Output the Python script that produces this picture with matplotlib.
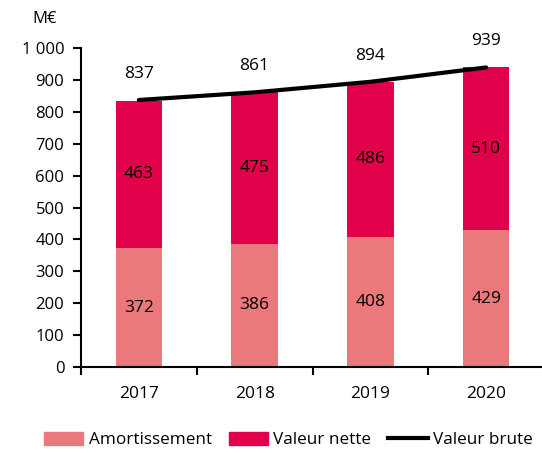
import matplotlib.pyplot as plt
from matplotlib.patches import Patch
from matplotlib.lines import Line2D
from matplotlib.ticker import FuncFormatter

plt.rcParams['font.family'] = ['Open Sans', 'DejaVu Sans']

# données (M€)
annees = ['2017', '2018', '2019', '2020']
amortissement = [372, 386, 408, 429]
valeur_nette = [463, 475, 486, 510]
valeur_brute = [837, 861, 894, 939]

c_amort = '#EB797B'
c_nette = '#E1004A'

fig = plt.figure(figsize=(5.42, 4.53), dpi=100)
ax = fig.add_axes([81 / 542, 86 / 453, 463 / 542, 319 / 453])

x = list(range(len(annees)))
ax.bar(x, amortissement, width=0.4, color=c_amort, zorder=2)
ax.bar(x, valeur_nette, width=0.4, bottom=amortissement, color=c_nette, zorder=2)
ax.plot(x, valeur_brute, color='black', linewidth=3, solid_capstyle='round', zorder=3)

fs = 12.5
for i in x:
    ax.text(i, amortissement[i] / 2, str(amortissement[i]), ha='center', va='center', fontsize=fs, zorder=4)
    ax.text(i, amortissement[i] + valeur_nette[i] / 2, str(valeur_nette[i]), ha='center', va='center', fontsize=fs, zorder=4)
    ax.text(i, valeur_brute[i] + 82, str(valeur_brute[i]), ha='center', va='center', fontsize=fs, zorder=4)

ax.set_xlim(-0.5, 3.5)
ax.set_ylim(0, 1000)
ax.set_yticks(range(0, 1001, 100))
ax.yaxis.set_major_formatter(FuncFormatter(lambda v, p: f'{int(v):,}'.replace(',', ' ')))
ax.set_xticks(x)
ax.set_xticklabels(annees)
ax.set_xticks([-0.5, 0.5, 1.5, 2.5, 3.5], minor=True)
ax.tick_params(axis='x', which='major', length=0, pad=14, labelsize=fs)
ax.tick_params(axis='x', which='minor', length=6, width=1.5, direction='out')
ax.tick_params(axis='y', length=6, width=1.5, labelsize=12, pad=6)

for s in ['top', 'right']:
    ax.spines[s].set_visible(False)
for s in ['left', 'bottom']:
    ax.spines[s].set_linewidth(1.5)

fig.text(32 / 542, 1 - 19 / 453, 'M€', fontsize=12, va='center', ha='left')

handles = [Patch(color=c_amort), Patch(color=c_nette), Line2D([0], [0], color='black', linewidth=3)]
labels = ['Amortissement', 'Valeur nette', 'Valeur brute']
fig.legend(handles, labels, loc='center', bbox_to_anchor=(0.532, 1 - 440 / 453), ncol=3,
           frameon=False, fontsize=12.3, handlelength=2.3, handleheight=0.8,
           handletextpad=0.3, columnspacing=1.0, borderpad=0)

fig.savefig('out.png', dpi=100)
